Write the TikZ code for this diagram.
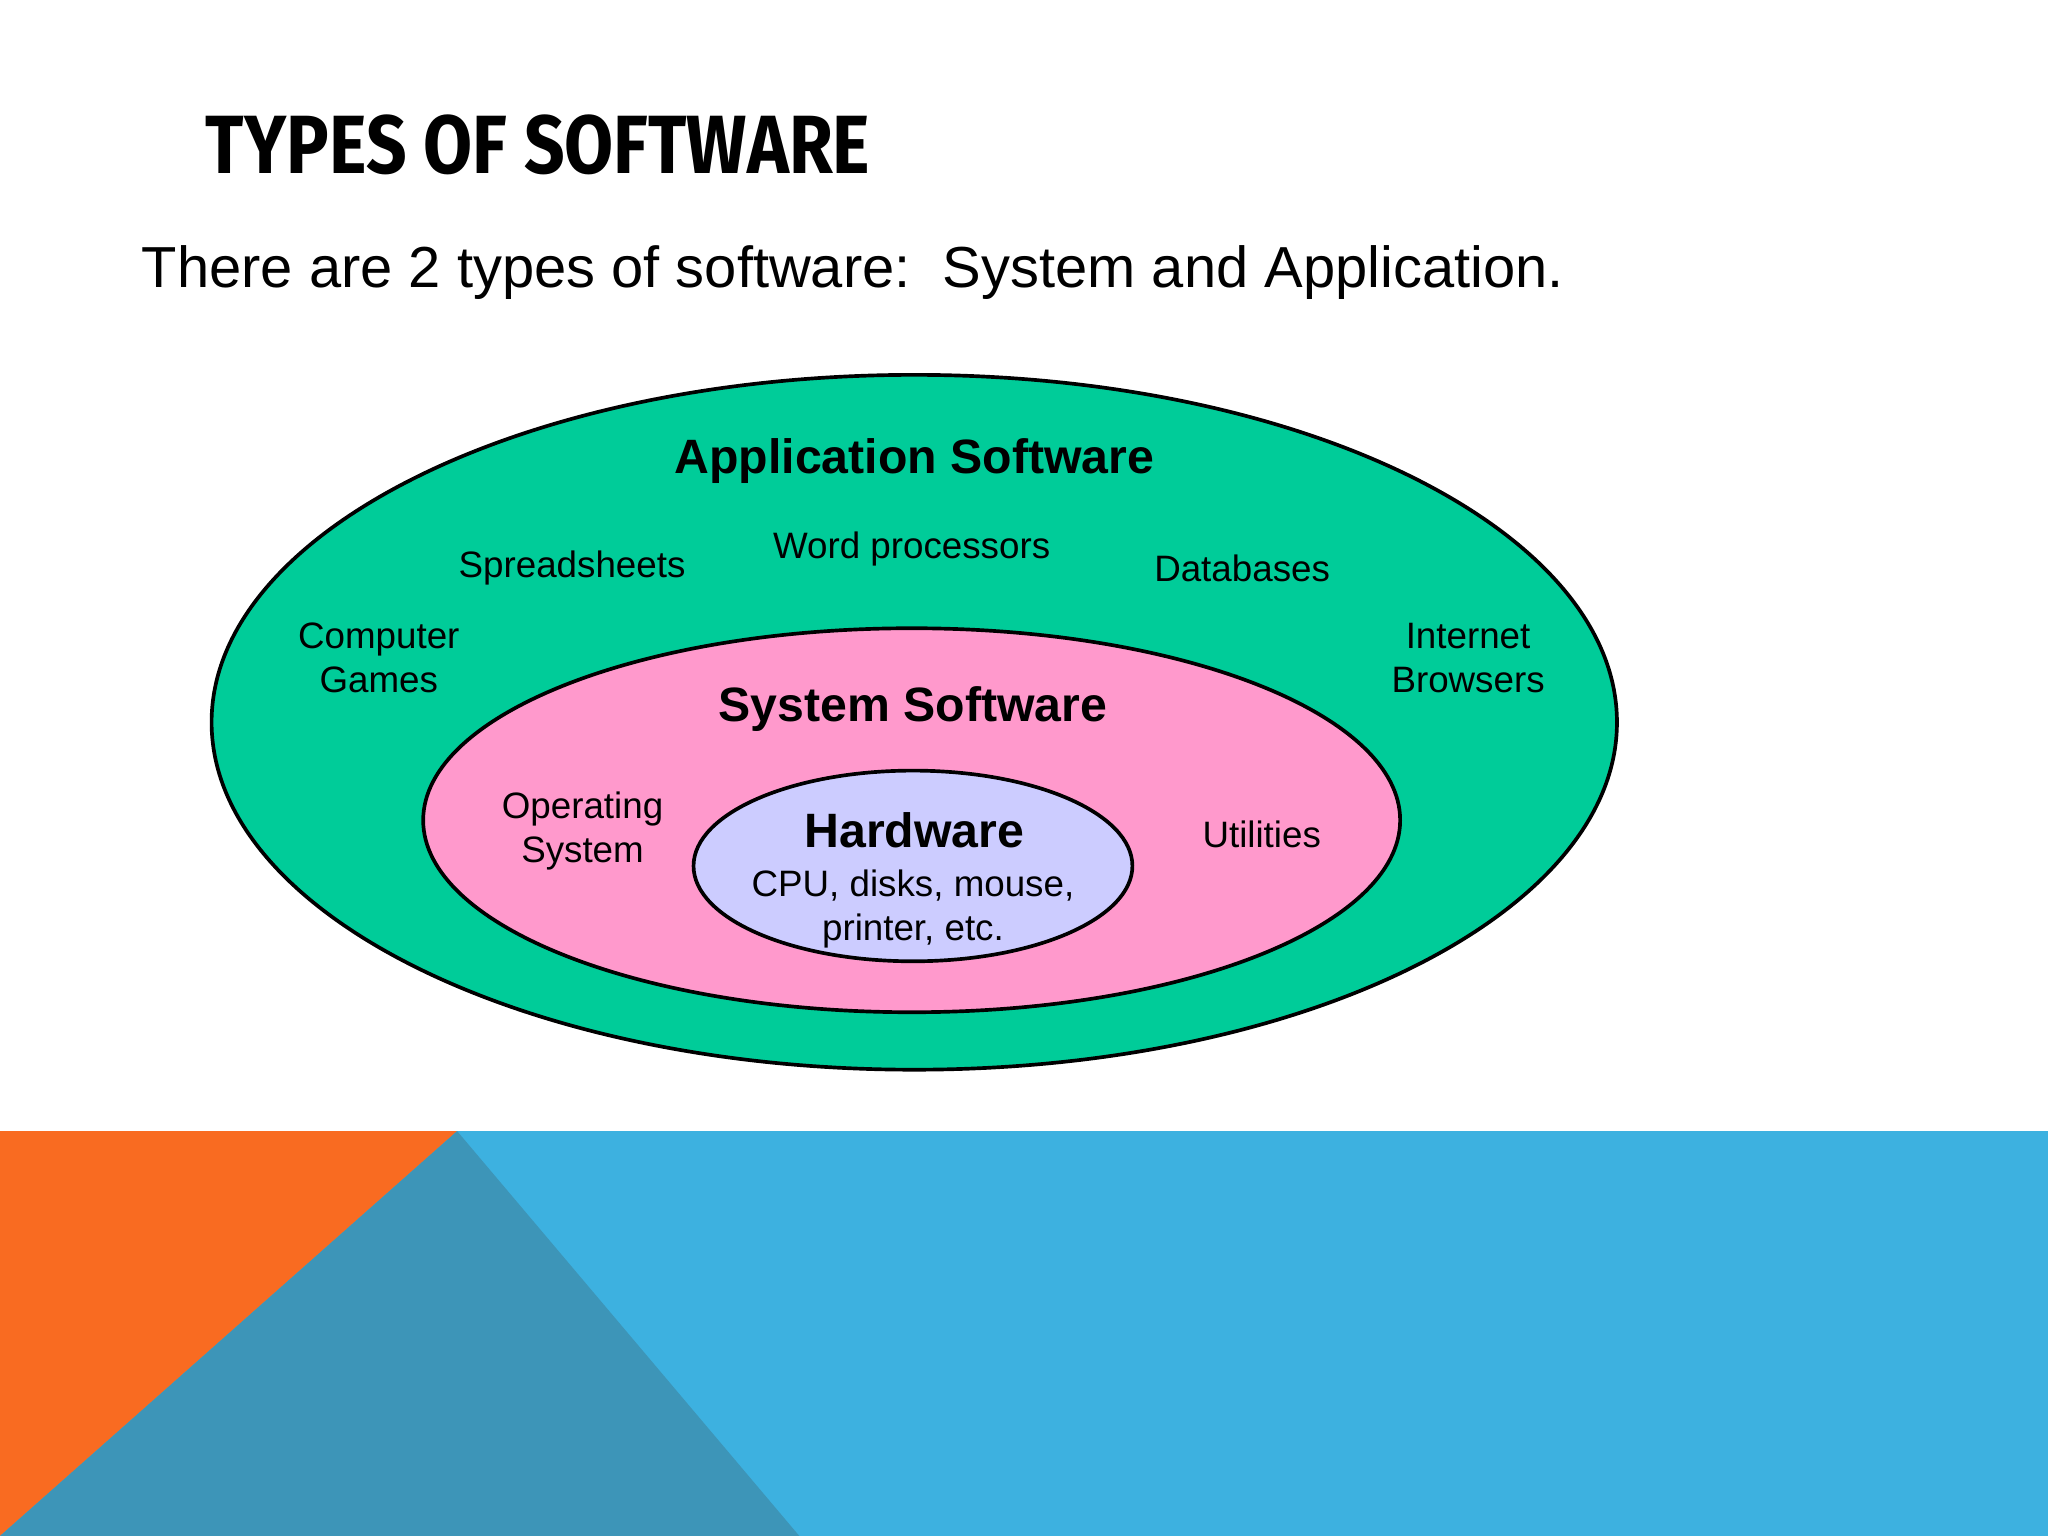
\documentclass[tikz,border=0pt]{standalone}
\usepackage{fontspec}
\setmainfont{Liberation Sans}
\newfontfamily\titlefont{Fira Sans}
\definecolor{appgreen}{RGB}{0,204,153}
\definecolor{syspink}{RGB}{255,153,204}
\definecolor{hwblue}{RGB}{204,204,255}
\definecolor{bandblue}{RGB}{61,177,224}
\definecolor{bandteal}{RGB}{61,149,184}
\definecolor{bandorange}{RGB}{249,107,33}
\tikzset{
 lbl/.style={font=\fontsize{8}{9.6}\selectfont, align=center, inner sep=0pt},
 head/.style={font=\fontsize{10.5}{12}\selectfont\bfseries, inner sep=0pt},
 ring/.style={draw=black, line width=0.8pt}
}
\begin{document}
\begin{tikzpicture}[x=0.01cm,y=-0.01cm]
\useasboundingbox (0,0) rectangle (1568,1176);
\fill[white] (0,0) rectangle (1568,1176);
% bottom band
\fill[bandblue] (0,866) rectangle (1568,1176);
\fill[bandorange] (0,866) -- (350,866) -- (0,1176) -- cycle;
\fill[bandteal] (350,866) -- (612,1176) -- (0,1176) -- cycle;
% title
\node[anchor=base west, inner sep=0pt, font=\titlefont\fontsize{18}{20}\selectfont\bfseries] (title) at (157,133) {\scalebox{0.86}[1]{TYPES OF SOFTWARE}};
\node[anchor=base west, inner sep=0pt, font=\fontsize{12.6}{15}\selectfont] (sub) at (108,220) {There are 2 types of software:\ \ System and Application.};
% ellipses
\draw[ring, fill=appgreen] (700,553) ellipse [x radius=538, y radius=266];
\draw[ring, fill=syspink] (698,628) ellipse [x radius=374, y radius=147];
\draw[ring, fill=hwblue] (699,663) ellipse [x radius=168, y radius=73];
% texts
\node[head] (app) at (700,353) {Application Software};
\node[lbl] (sp) at (438,435) {Spreadsheets};
\node[lbl] (wp) at (698,420) {Word processors};
\node[lbl] (db) at (951,435) {Databases};
\node[lbl] (cg) at (290,504) {Computer\\Games};
\node[lbl] (ib) at (1124,504) {Internet\\Browsers};
\node[head] (sys) at (699,543) {System Software};
\node[lbl] (os) at (446,636) {Operating\\System};
\node[lbl] (ut) at (966,639) {Utilities};
\node[head] (hw) at (700,636) {Hardware};
\node[lbl] (cpu) at (699,696) {CPU, disks, mouse,\\printer, etc.};
\end{tikzpicture}
\end{document}
